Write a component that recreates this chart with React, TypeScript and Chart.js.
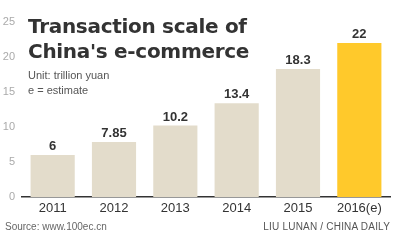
import React, { useEffect, useRef } from "react";
import { Chart, registerables } from "chart.js";

Chart.register(...registerables);

const categories = ["2011", "2012", "2013", "2014", "2015", "2016(e)"];
const values = [6, 7.85, 10.2, 13.4, 18.3, 22];
const valueLabels = ["6", "7.85", "10.2", "13.4", "18.3", "22"];
const barColors = ["#e3dccb", "#e3dccb", "#e3dccb", "#e3dccb", "#e3dccb", "#ffc92b"];
const titleLines = ["Transaction scale of", "China's e-commerce"];
const noteLines = ["Unit: trillion yuan", "e = estimate"];
const sourceText = "Source: www.100ec.cn";
const creditText = "LIU LUNAN / CHINA DAILY";

const FONT = "'Liberation Sans', Arial, sans-serif";
const TITLE_FONT = "'DejaVu Sans', 'Liberation Sans', sans-serif";

const valueLabelPlugin = {
  id: "valueLabels",
  afterDatasetsDraw(chart: any) {
    const ctx = chart.ctx;
    const meta = chart.getDatasetMeta(0);
    ctx.save();
    ctx.font = `bold 13px ${FONT}`;
    ctx.fillStyle = "#333333";
    ctx.textAlign = "center";
    ctx.textBaseline = "alphabetic";
    meta.data.forEach((bar: any, i: number) => {
      ctx.fillText(valueLabels[i], bar.x, bar.y - 5);
    });
    ctx.restore();
  },
};

export default function App() {
  const ref = useRef<HTMLCanvasElement>(null);

  useEffect(() => {
    document.body.style.margin = "0";
    const chart = new Chart(ref.current!, {
      type: "bar",
      data: {
        labels: categories,
        datasets: [
          {
            data: values,
            backgroundColor: barColors,
            borderWidth: 0,
            categoryPercentage: 0.72,
            barPercentage: 1,
          },
        ],
      },
      options: {
        responsive: false,
        animation: false,
        layout: { padding: { top: 22, right: 9, bottom: 20, left: 0 } },
        plugins: {
          legend: { display: false },
          tooltip: { enabled: false },
          title: { display: false },
        },
        scales: {
          x: {
            grid: { display: false, drawTicks: false },
            border: { display: true, color: "#333333", width: 1.5 },
            ticks: {
              color: "#333333",
              font: { family: FONT, size: 13 },
              padding: 4,
            },
            afterFit(scale: any) {
              scale.height = 23;
            },
          },
          y: {
            min: 0,
            max: 25,
            grid: { display: false, drawTicks: false },
            border: { display: false },
            ticks: {
              stepSize: 5,
              color: "#aaaaaa",
              font: { family: FONT, size: 11 },
              padding: 7,
            },
            afterFit(scale: any) {
              scale.width = 22;
            },
          },
        },
      },
      plugins: [valueLabelPlugin],
    });
    return () => chart.destroy();
  }, []);

  return (
    <div style={{ position: "relative", width: 399, height: 240, background: "#fff", overflow: "hidden" }}>
      <canvas ref={ref} width={399} height={240} style={{ position: "absolute", left: 0, top: 0 }} />
      <div
        style={{
          position: "absolute",
          left: 28,
          top: 14,
          fontFamily: TITLE_FONT,
          fontWeight: 700,
          fontSize: 20,
          lineHeight: "25px",
          color: "#333333",
          letterSpacing: -0.3,
          whiteSpace: "nowrap",
        }}
      >
        {titleLines.map((t) => (
          <div key={t}>{t}</div>
        ))}
      </div>
      <div
        style={{
          position: "absolute",
          left: 28,
          top: 68,
          fontFamily: FONT,
          fontSize: 11,
          lineHeight: "15px",
          color: "#555555",
          whiteSpace: "nowrap",
        }}
      >
        {noteLines.map((t) => (
          <div key={t}>{t}</div>
        ))}
      </div>
      <div
        style={{
          position: "absolute",
          left: 5,
          top: 221,
          fontFamily: FONT,
          fontSize: 10,
          color: "#666666",
          whiteSpace: "nowrap",
        }}
      >
        {sourceText}
      </div>
      <div
        style={{
          position: "absolute",
          right: 9,
          top: 221,
          fontFamily: FONT,
          fontSize: 10,
          color: "#555555",
          letterSpacing: 0.2,
          whiteSpace: "nowrap",
        }}
      >
        {creditText}
      </div>
    </div>
  );
}
